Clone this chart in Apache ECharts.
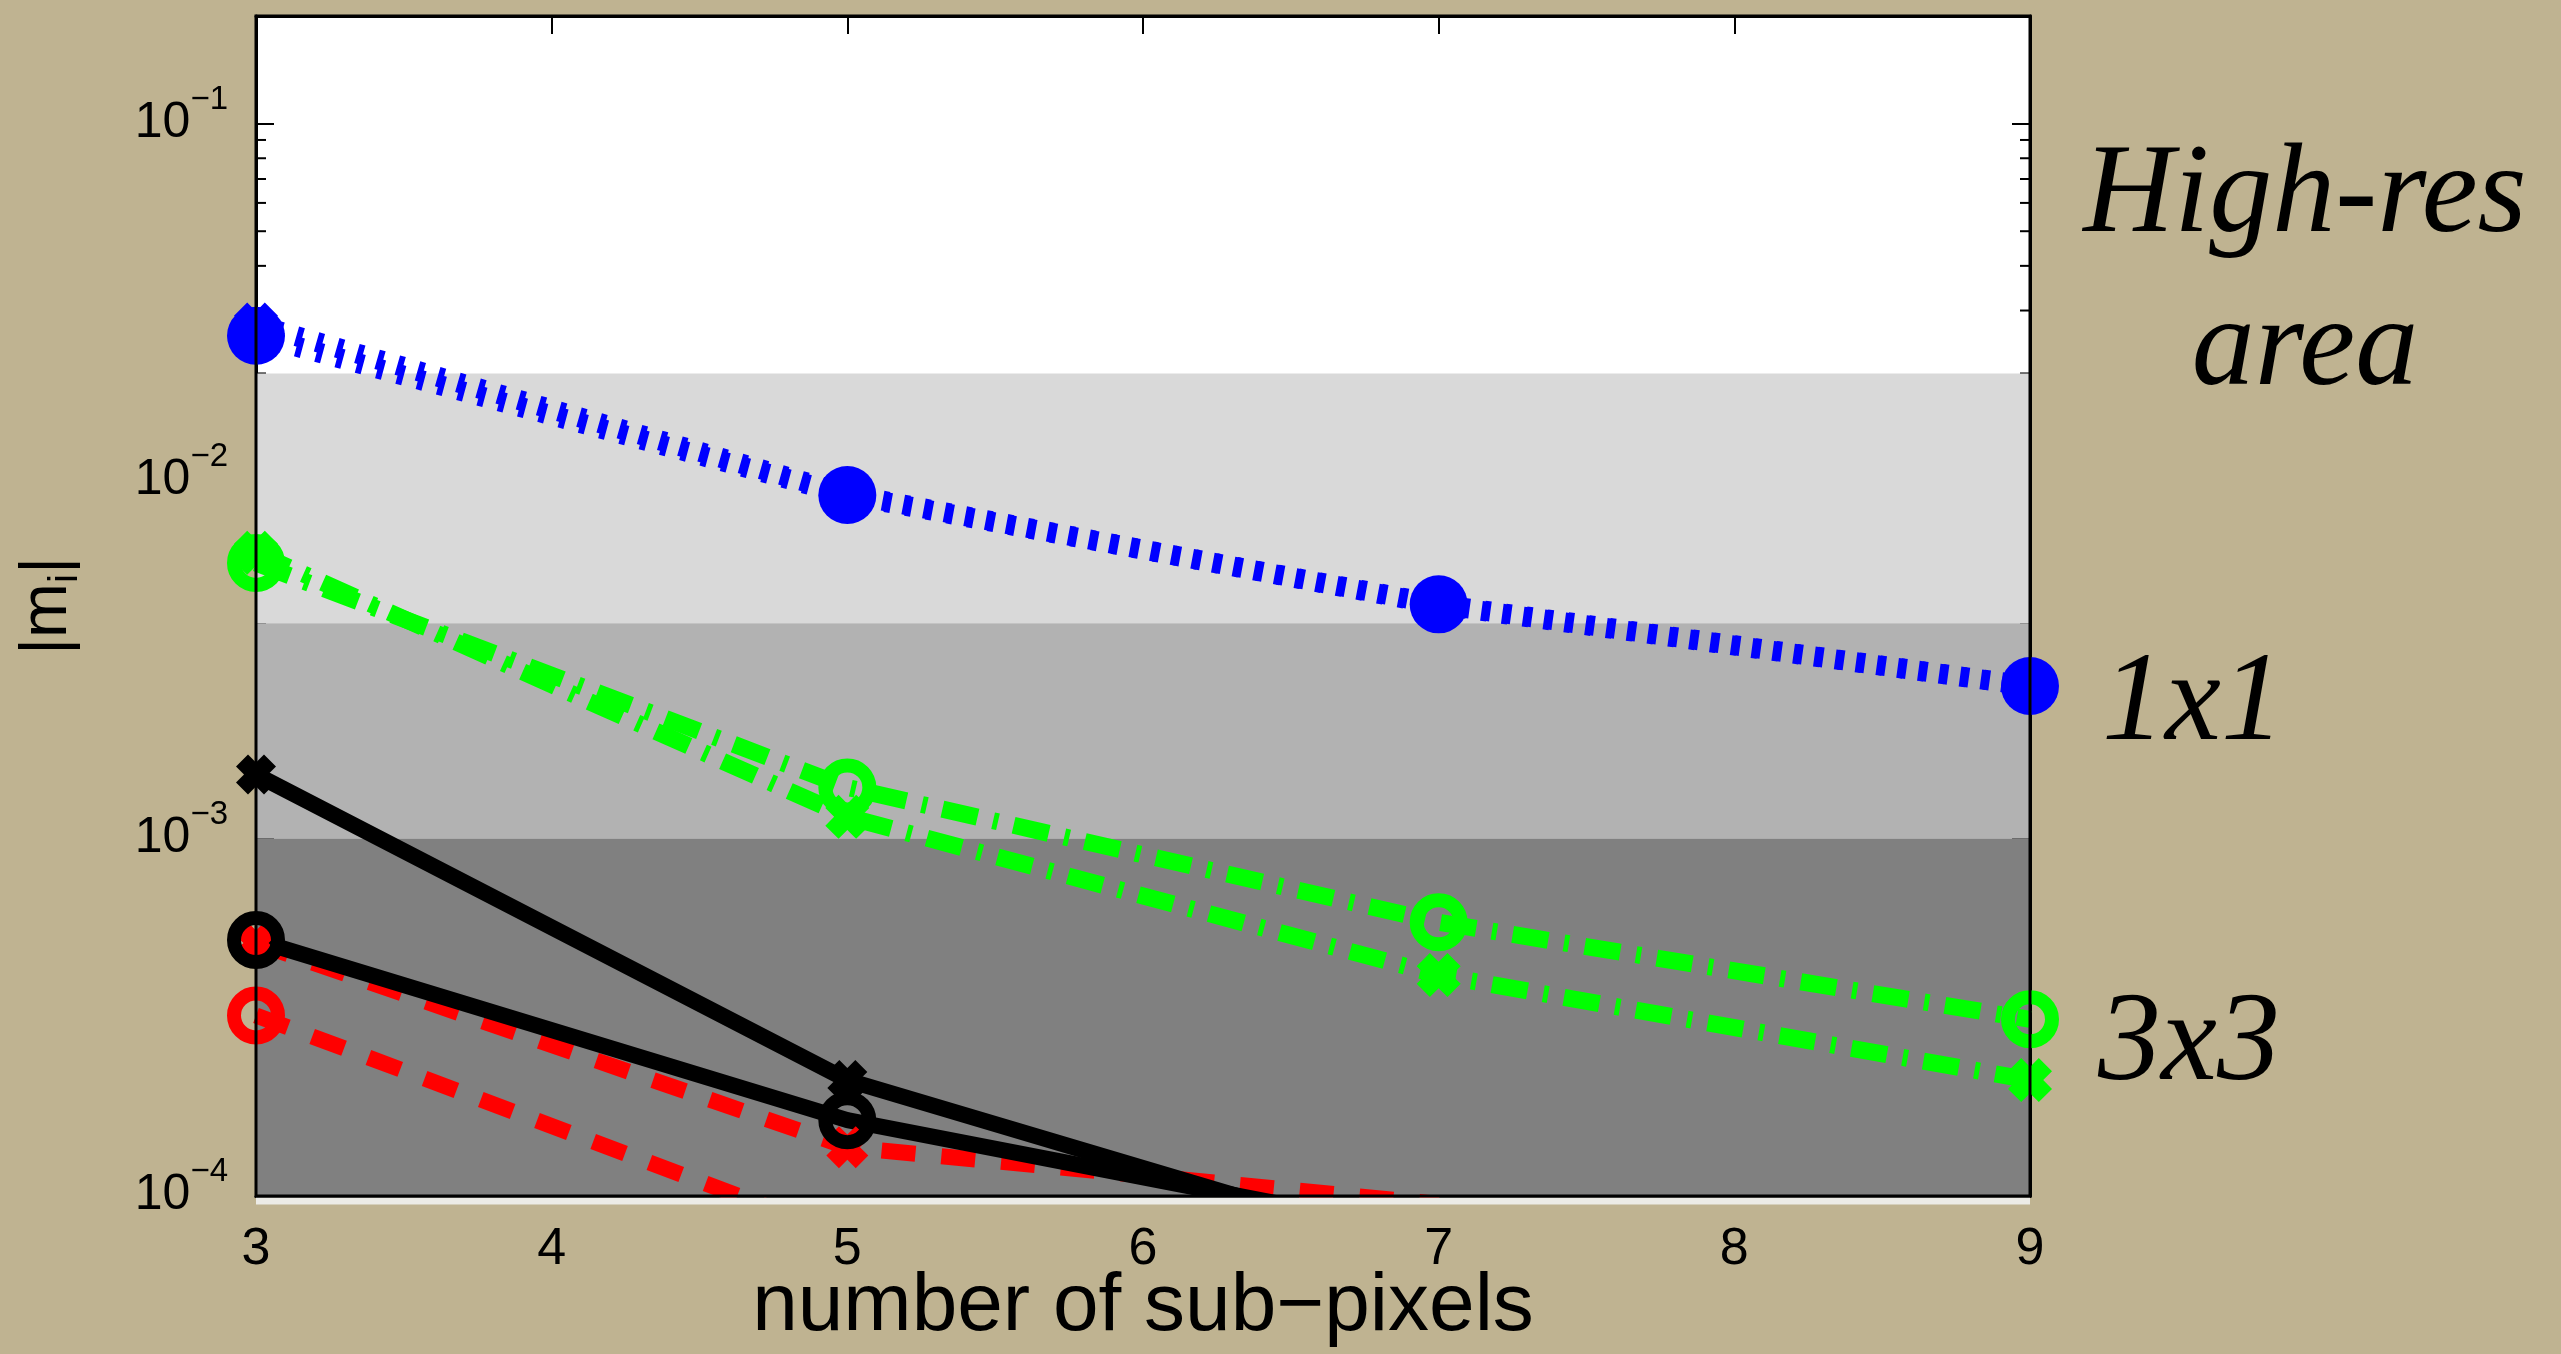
<!DOCTYPE html>
<html>
<head>
<meta charset="utf-8">
<script src="https://cdn.jsdelivr.net/npm/echarts@6/dist/echarts.min.js"></script>
<style>
html,body{margin:0;padding:0;background:#bfb391;}
#c{width:2561px;height:1354px;}
</style>
</head>
<body>
<div id="c"></div>
<script>
// ---- data ----
const subPixels = [3, 5, 7, 9];
const xTicks = [3, 4, 5, 6, 7, 8, 9];
const yTickExponents = [-4, -3, -2, -1];

const blueCircle  = [0.0255, 0.00914, 0.00452, 0.00267];
const blueCross   = [0.0274, 0.0092, 0.0045, 0.00267];
const greenCircle = [0.0059, 0.00139, 0.000583, 0.000312];
const greenCross  = [0.0063, 0.00115, 0.000415, 0.000211];
const blackCross  = [0.00151, 0.000211, 0.000068, null];
const blackCircle = [0.00052, 0.000163, 0.000078, null];
const redCross    = [0.00051, 0.000137, 0.000095, null];
const redCircle   = [0.00032, 0.000077, null, null];

// shaded accuracy bands (lower, upper)
const bandLow   = [0.004, 0.001, 0.0001];
const bandHigh  = [0.02, 0.004, 0.001];
const bandColors = ['#d9d9d9', '#b2b2b2', '#808080'];

const yMin = 0.0001, yMax = 0.2;

const xAxisName = 'number of sub\u2212pixels';
const annotations = ['High-res', 'area', '1x1', '3x3'];

// ---- helpers ----
const SANS = 'Liberation Sans';
const X_PATH = 'path://M0,3 L3,0 L5,2 L7,0 L10,3 L8,5 L10,7 L7,10 L5,8 L3,10 L0,7 L2,5 Z';

function pts(vals) {
  return subPixels.map((x, i) => [x, vals[i]]).filter(p => p[1] != null);
}
const minorTicks = [];
for (let e = yTickExponents[0]; e <= yTickExponents[yTickExponents.length - 1]; e++) {
  for (let m = 2; m <= 9; m++) {
    const v = m * Math.pow(10, e);
    if (v < yMax) minorTicks.push([3, v]);
  }
}

function lineSeries(name, vals, color, dash, width, symbol, size, filled, z) {
  return {
    name: name, type: 'line', data: pts(vals), z: z,
    showAllSymbol: true, symbol: symbol, symbolSize: size,
    silent: true, emphasis: {disabled: true},
    lineStyle: {color: color, width: width, type: dash, cap: 'butt'},
    itemStyle: filled ? {color: color, borderWidth: 0}
                      : {color: 'rgba(0,0,0,0)', borderColor: color, borderWidth: 14}
  };
}

const axisLineStyle = {show: true, lineStyle: {color: '#000', width: 3}};
const tickStyle = {show: true, inside: true, length: 18, lineStyle: {color: '#000', width: 2}};

const chart = echarts.init(document.getElementById('c'), null, {renderer: 'canvas'});
const option = {
  animation: false,
  backgroundColor: '#bfb391',
  grid: {left: 256, top: 16, width: 1774, height: 1180, show: true, backgroundColor: '#ffffff',
         borderWidth: 0, containLabel: false, outerBoundsMode: 'none'},
  xAxis: [
    {type: 'value', position: 'bottom', min: xTicks[0], max: xTicks[xTicks.length - 1], interval: 1,
     name: xAxisName, nameLocation: 'middle', nameGap: 70, nameMoveOverlap: false,
     nameTextStyle: {fontFamily: SANS, fontSize: 82, color: '#000'},
     axisLine: axisLineStyle, axisTick: tickStyle, splitLine: {show: false},
     axisLabel: {fontFamily: SANS, fontSize: 52, color: '#000', margin: 28}},
    {type: 'value', position: 'top', min: xTicks[0], max: xTicks[xTicks.length - 1], interval: 1,
     axisLine: axisLineStyle, axisTick: tickStyle, splitLine: {show: false}, axisLabel: {show: false}}
  ],
  yAxis: [
    {type: 'log', logBase: 10, position: 'left', min: yMin, max: yMax,
     name: '{a|\u007Cm}{s|i}{a|\u007C}', nameLocation: 'middle', nameGap: 170, nameRotate: 90, nameMoveOverlap: false,
     nameTextStyle: {color: '#000', rich: {
       a: {fontFamily: SANS, fontSize: 66, color: '#000'},
       s: {fontFamily: SANS, fontSize: 40, color: '#000', padding: [36, 0, 0, 0]}
     }},
     axisLine: axisLineStyle, axisTick: tickStyle, splitLine: {show: false}, minorTick: {show: false},
     axisLabel: {
       margin: 28, showMaxLabel: false, padding: [0, 0, 16, 0],
       formatter: function (v) {
         const e = Math.log10(v); const r = Math.round(e);
         if (Math.abs(e - r) > 1e-6 || yTickExponents.indexOf(r) < 0) return '';
         return '{b|10}{s|\u2212' + Math.abs(r) + '}';
       },
       rich: {
         b: {fontFamily: SANS, fontSize: 50, color: '#000', verticalAlign: 'bottom'},
         s: {fontFamily: SANS, fontSize: 33, color: '#000', verticalAlign: 'bottom', padding: [0, 0, 32, 0]}
       }
     }},
    {type: 'log', logBase: 10, position: 'right', min: yMin, max: yMax,
     axisLine: axisLineStyle, axisTick: tickStyle, splitLine: {show: false}, axisLabel: {show: false}}
  ],
  graphic: [
    {type: 'text', x: 2305, y: 198, style: {text: annotations[0], fill: '#000', font: 'italic 126px "Liberation Serif"', align: 'center', verticalAlign: 'middle'}},
    {type: 'text', x: 2305, y: 351, style: {text: annotations[1], fill: '#000', font: 'italic 126px "Liberation Serif"', align: 'center', verticalAlign: 'middle'}},
    {type: 'text', x: 2102, y: 706, style: {text: annotations[2], fill: '#000', font: 'italic 126px "Liberation Serif"', align: 'left', verticalAlign: 'middle'}},
    {type: 'text', x: 2098, y: 1046, style: {text: annotations[3], fill: '#000', font: 'italic 126px "Liberation Serif"', align: 'left', verticalAlign: 'middle'}}
  ],
  series: [
    // minor log ticks on both sides (drawn under the bands, like the reference)
    {type: 'custom', z: 0, silent: true, data: minorTicks, clip: false,
     renderItem: function (params, api) {
       const cs = params.coordSys;
       const y = api.coord([api.value(0), api.value(1)])[1];
       return {type: 'group', children: [
         {type: 'line', shape: {x1: cs.x, y1: y, x2: cs.x + 10, y2: y}, style: {stroke: '#000', lineWidth: 2}},
         {type: 'line', shape: {x1: cs.x + cs.width - 10, y1: y, x2: cs.x + cs.width, y2: y}, style: {stroke: '#000', lineWidth: 2}}
       ]};
     }},
    // gray bands
    {type: 'line', z: 1, data: [], silent: true,
     markArea: {silent: true, data: bandLow.map((lo, i) => [
       {yAxis: lo, itemStyle: {color: bandColors[i], opacity: 1}},
       {yAxis: bandHigh[i]}
     ])}},
    lineSeries('red o', redCircle, '#ff0000', [34, 26], 16, 'circle', 44, false, 3),
    lineSeries('red x', redCross, '#ff0000', [34, 26], 16, X_PATH, 42, true, 3),
    lineSeries('black x', blackCross, '#000000', 'solid', 16, X_PATH, 40, true, 3),
    lineSeries('black o', blackCircle, '#000000', 'solid', 16, 'circle', 44, false, 3),
    lineSeries('green x', greenCross, '#00ff00', [36, 16, 5, 16], 17, X_PATH, 44, true, 3),
    lineSeries('green o', greenCircle, '#00ff00', [36, 16, 5, 16], 17, 'circle', 44, false, 3),
    lineSeries('blue x', blueCross, '#0000ff', [6, 15], 20, X_PATH, 44, true, 3),
    lineSeries('blue o', blueCircle, '#0000ff', [6, 15], 20, 'circle', 58, true, 3),
    // plot frame on top
    {type: 'custom', z: 10, silent: true, data: [[3, 0.001]], clip: false,
     renderItem: function (params, api) {
       const cs = params.coordSys;
       return {type: 'group', children: [
         {type: 'line', shape: {x1: cs.x, y1: cs.y + cs.height + 5, x2: cs.x + cs.width, y2: cs.y + cs.height + 5},
          style: {stroke: '#ecebe6', lineWidth: 7}},
         {type: 'rect', shape: {x: cs.x, y: cs.y, width: cs.width, height: cs.height},
          style: {fill: 'none', stroke: '#000', lineWidth: 3}}
       ]};
     }}
  ]
};
chart.setOption(option);
</script>
</body>
</html>
